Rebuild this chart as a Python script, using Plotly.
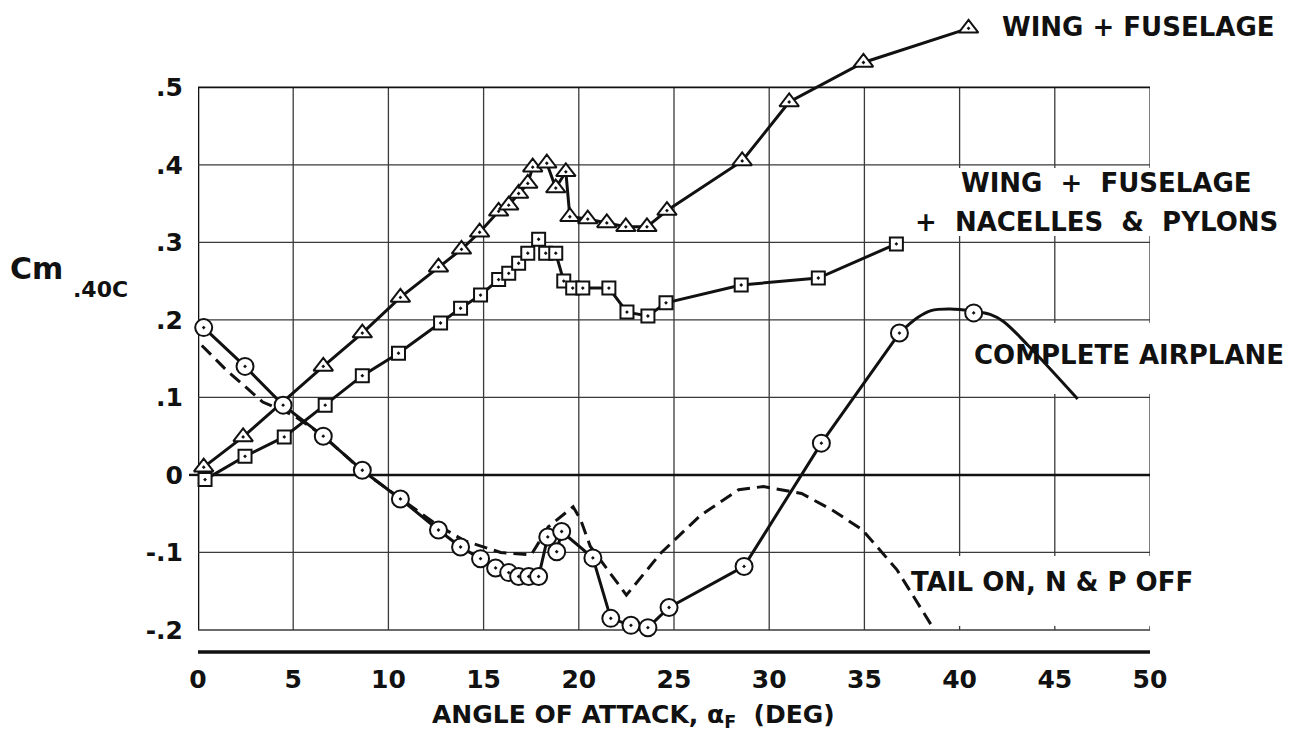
import plotly.graph_objects as go

# ---------------- data ----------------
# Wing + fuselage (triangles)
wf_alpha = [0.3, 2.37, 6.58, 8.63, 10.63, 12.63, 13.84, 14.79, 15.79, 16.32, 16.84, 17.32,
            17.58, 18.32, 18.79, 19.32, 19.53, 20.47, 21.47, 22.47, 23.58, 24.63, 28.58,
            31.05, 34.95, 40.47]
wf_cm = [0.010, 0.049, 0.140, 0.183, 0.229, 0.268, 0.291, 0.313, 0.340, 0.348, 0.363, 0.376,
         0.397, 0.402, 0.370, 0.391, 0.333, 0.330, 0.325, 0.320, 0.320, 0.341, 0.405,
         0.481, 0.532, 0.576]

# Wing + fuselage + nacelles & pylons (squares)
wfnp_alpha = [0.37, 2.47, 4.53, 6.68, 8.63, 10.53, 12.74, 13.79, 14.84, 15.79, 16.32, 16.84,
              17.32, 17.89, 18.26, 18.79, 19.21, 19.68, 20.21, 21.58, 22.53, 23.63, 24.58,
              28.53, 32.58, 36.68]
wfnp_cm = [-0.006, 0.024, 0.049, 0.090, 0.128, 0.157, 0.196, 0.215, 0.232, 0.252, 0.260, 0.273,
           0.286, 0.304, 0.286, 0.286, 0.250, 0.241, 0.241, 0.241, 0.210, 0.205, 0.222,
           0.245, 0.254, 0.298]

# Complete airplane (circles)
ca_alpha = [0.3, 2.47, 4.47, 6.58, 8.63, 10.63, 12.63, 13.79, 14.84, 15.63, 16.32, 16.84,
            17.37, 17.89, 18.37, 18.84, 19.1, 20.74, 21.68, 22.74, 23.63, 24.74, 28.68,
            32.74, 36.84, 40.74]
ca_cm = [0.190, 0.140, 0.090, 0.050, 0.006, -0.031, -0.071, -0.093, -0.108, -0.120, -0.126, -0.131,
         -0.131, -0.131, -0.080, -0.099, -0.073, -0.107, -0.185, -0.194, -0.197, -0.171, -0.118,
         0.041, 0.183, 0.209]
# faired curve of the complete airplane beyond the last straight segment
ca_fair_alpha = [36.84, 37.8, 38.5, 39.5, 40.74, 41.6, 42.3, 43.6, 46.2]
ca_fair_cm = [0.183, 0.203, 0.212, 0.214, 0.211, 0.207, 0.198, 0.167, 0.098]

# Tail on, N & P off (dashed)
tail_alpha = [0.2, 1.5, 3.4, 5.0, 6.6, 8.6, 10.6, 12.6, 14.0, 15.9, 17.5, 18.4, 19.7, 20.1,
              20.6, 22.5, 24.3, 26.4, 28.4, 29.7, 31.7, 33.3, 34.9, 36.7, 38.6]
tail_cm = [0.167, 0.135, 0.094, 0.077, 0.050, 0.006, -0.030, -0.065, -0.085, -0.100, -0.103,
           -0.067, -0.041, -0.058, -0.092, -0.155, -0.101, -0.052, -0.019, -0.015, -0.024,
           -0.045, -0.071, -0.122, -0.197]

x_ticks = [0, 5, 10, 15, 20, 25, 30, 35, 40, 45, 50]
x_ticktext = ["0", "5", "10", "15", "20", "25", "30", "35", "40", "45", "50"]
y_ticks = [-0.2, -0.1, 0.0, 0.1, 0.2, 0.3, 0.4, 0.5]
y_ticktext = ["-.2", "-.1", "0", ".1", ".2", ".3", ".4", ".5"]

# ---------------- layout geometry ----------------
W, H = 1290, 734
ML, MR, MT, MB = 198, 140, 2, 73
XR = [0, 50]
YR = [-0.24, 0.61]
PW = W - ML - MR
PH = H - MT - MB


def pxx(p):  # pixel -> data x
    return XR[0] + (p - ML) / PW * (XR[1] - XR[0])


def pxy(p):  # pixel -> data y
    return YR[1] - (p - MT) / PH * (YR[1] - YR[0])


def ppx(p):  # pixel -> paper x
    return (p - ML) / PW


def ppy(p):  # pixel -> paper y
    return (H - MB - p) / PH


FONT = "DejaVu Sans"
INK = "#111111"
NB = "\u00a0"

fig = go.Figure()

fig.add_trace(go.Scatter(
    x=tail_alpha, y=tail_cm, mode="lines",
    line=dict(color=INK, width=3, dash="13px,7px"), hoverinfo="skip"))

fig.add_trace(go.Scatter(
    x=ca_fair_alpha, y=ca_fair_cm, mode="lines", line_shape="spline",
    line=dict(color=INK, width=3), hoverinfo="skip"))

fig.add_trace(go.Scatter(
    x=ca_alpha[:-1], y=ca_cm[:-1], mode="lines",
    line=dict(color=INK, width=3), hoverinfo="skip"))

fig.add_trace(go.Scatter(
    x=wfnp_alpha, y=wfnp_cm, mode="lines+markers",
    line=dict(color=INK, width=3),
    marker=dict(symbol="square-dot", size=13, color="white",
                line=dict(color=INK, width=2)), cliponaxis=False))

fig.add_trace(go.Scatter(
    x=wf_alpha, y=wf_cm, mode="lines+markers",
    line=dict(color=INK, width=3),
    marker=dict(symbol="triangle-up-dot", size=17, color="white",
                line=dict(color=INK, width=2)), cliponaxis=False))

fig.add_trace(go.Scatter(
    x=ca_alpha, y=ca_cm, mode="markers",
    marker=dict(symbol="circle-dot", size=17, color="white",
                line=dict(color=INK, width=2)), cliponaxis=False))

# ---------------- grid drawn as shapes ----------------
shapes = []
GRID = "#3a3a3a"
for xv in x_ticks:
    shapes.append(dict(type="line", xref="x", yref="y", x0=xv, x1=xv, y0=-0.2, y1=0.5,
                       line=dict(color=INK if xv == 0 else GRID, width=2.6 if xv == 0 else 1.3),
                       layer="below"))
for yv in y_ticks:
    shapes.append(dict(type="line", xref="x", yref="y", x0=0, x1=50, y0=yv, y1=yv,
                       line=dict(color=INK if yv in (0.0, 0.5) else GRID,
                                 width=2.4 if yv == 0.0 else (1.8 if yv == 0.5 else 1.3)),
                       layer="below"))
# white patches behind the curve labels (under the curves, over the grid)
for (x0, x1, y0, y1) in [(910, 1160, 168, 236), (968, 1160, 323, 394), (905, 1160, 556, 626)]:
    shapes.append(dict(type="rect", xref="x", yref="y", x0=pxx(x0), x1=pxx(x1),
                       y0=pxy(y1), y1=pxy(y0), fillcolor="white", line=dict(width=0),
                       layer="below"))
# heavy base line under the grid
shapes.append(dict(type="line", xref="x", yref="y", x0=0, x1=50, y0=pxy(652), y1=pxy(652),
                   line=dict(color=INK, width=3.5), layer="below"))
# short tick at the zero line, left of the axis
shapes.append(dict(type="line", xref="paper", yref="y", x0=ppx(189), x1=ppx(198), y0=0, y1=0,
                   line=dict(color=INK, width=2.4)))

TF = dict(family=FONT, size=25, color=INK, weight="bold")
LF = dict(family=FONT, size=26, color=INK, weight="bold")
annotations = [
    dict(text="WING + FUSELAGE", x=ppx(1138), y=ppy(27)),
    dict(text="WING" + NB + " +" + NB + " FUSELAGE", x=ppx(1106), y=ppy(183)),
    dict(text="+" + NB + " NACELLES" + NB + " &amp;" + NB + " PYLONS", x=ppx(1096), y=ppy(222)),
    dict(text="COMPLETE AIRPLANE", x=ppx(1129), y=ppy(355)),
    dict(text="TAIL ON, N &amp; P OFF", x=ppx(1052), y=ppy(582)),
]
for a in annotations:
    a.update(xref="paper", yref="paper", showarrow=False, xanchor="center", yanchor="middle",
             font=LF)
annotations.append(dict(text="ANGLE OF ATTACK, \u03b1<sub>F</sub>" + NB + " (DEG)",
                        x=ppx(633), y=ppy(716), xref="paper", yref="paper",
                        showarrow=False, xanchor="center", yanchor="middle",
                        font=dict(family=FONT, size=25, color=INK, weight="bold")))
annotations.append(dict(text="Cm", x=ppx(36), y=ppy(268), xref="paper", yref="paper",
                        showarrow=False, xanchor="center", yanchor="middle",
                        font=dict(family=FONT, size=30, color=INK, weight="bold")))
annotations.append(dict(text=".40C", x=ppx(100), y=ppy(289), xref="paper", yref="paper",
                        showarrow=False, xanchor="center", yanchor="middle",
                        font=dict(family=FONT, size=22, color=INK, weight="bold")))

fig.update_layout(
    width=W, height=H,
    margin=dict(l=ML, r=MR, t=MT, b=MB),
    paper_bgcolor="white", plot_bgcolor="white",
    showlegend=False,
    font=dict(family=FONT, color=INK),
    shapes=shapes,
    annotations=annotations,
    xaxis=dict(range=XR, tickvals=x_ticks, ticktext=x_ticktext, showgrid=False,
               zeroline=False, showline=False, ticks="", tickfont=TF,
               ticklabelstandoff=1),
    yaxis=dict(range=YR, tickvals=y_ticks, ticktext=y_ticktext, showgrid=False,
               zeroline=False, showline=False, ticks="", tickfont=TF,
               ticklabelstandoff=14),
)

fig.write_html("out.html", config={"displayModeBar": False},
               post_script="document.body.style.margin='0px';document.body.style.overflow='hidden';")
